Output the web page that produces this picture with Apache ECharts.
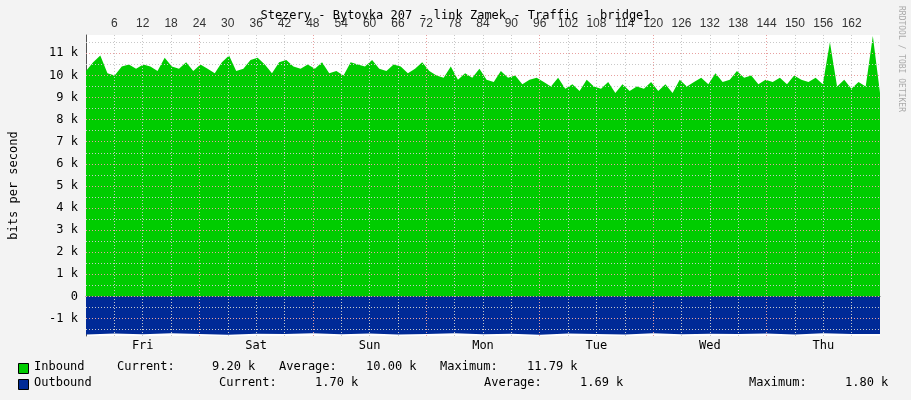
<!DOCTYPE html>
<html><head><meta charset="utf-8">
<script src="https://cdn.jsdelivr.net/npm/echarts@6/dist/echarts.min.js"></script>
<style>html,body{margin:0;padding:0;background:#f3f3f3}#c{width:911px;height:400px}</style>
</head><body><div id="c"></div>
<script>
// hours from Thu 00:00, one week
const dayNames = ['Fri', 'Sat', 'Sun', 'Mon', 'Tue', 'Wed', 'Thu'];
const yTicks = [-1, 0, 1, 2, 3, 4, 5, 6, 7, 8, 9, 10, 11];
const inbound = [
  10.2,10.6,10.9,10.1,10.0,10.4,10.5,10.3,10.5,10.4,10.2,10.8,10.4,10.3,10.6,10.2,
  10.5,10.3,10.1,10.6,10.9,10.2,10.3,10.7,10.8,10.5,10.1,10.6,10.7,10.4,10.3,10.5,
  10.3,10.6,10.1,10.2,10.0,10.6,10.5,10.4,10.7,10.3,10.2,10.5,10.4,10.1,10.3,10.6,
  10.2,10.0,9.9,10.4,9.8,10.1,9.9,10.3,9.8,9.7,10.2,9.9,10.0,9.6,9.8,9.9,
  9.7,9.5,9.9,9.4,9.6,9.3,9.8,9.5,9.4,9.7,9.2,9.6,9.3,9.5,9.4,9.7,
  9.3,9.6,9.2,9.8,9.5,9.7,9.9,9.6,10.1,9.7,9.8,10.2,9.9,10.0,9.6,9.8,
  9.7,9.9,9.6,10.0,9.8,9.7,9.9,9.6,11.5,9.5,9.8,9.4,9.7,9.5,11.79,9.2
];
const outbound = [
  -1.72,-1.68,-1.71,-1.66,-1.70,-1.73,-1.69,-1.70,-1.67,-1.71,-1.68,-1.72,-1.70,-1.66,
  -1.71,-1.69,-1.73,-1.68,-1.70,-1.72,-1.67,-1.71,-1.69,-1.70,-1.68,-1.72,-1.66,-1.70,-1.70
];

const toXY = arr => arr.map((v, i) => [i * 168 / (arr.length - 1), v]);

const hLines = [];
for (let v = -1.5; v <= 11.5; v += 0.5) {
  const major = Number.isInteger(v);
  hLines.push({
    yAxis: v,
    lineStyle: { color: major ? '#e8a0a0' : '#c8c8c8', type: [1, 2], width: 1 },
    label: major && yTicks.includes(v) ? {
      show: true, position: 'start', distance: 8,
      formatter: v === 0 ? '0' : v + ' k',
      color: '#000', fontFamily: 'DejaVu Sans Mono', fontSize: 12
    } : { show: false }
  });
}
const vLines = [];
for (let h = 6; h < 168; h += 6) {
  vLines.push({ xAxis: h, lineStyle: { color: h % 24 === 0 ? '#e8a0a0' : '#c8c8c8', type: [1, 2], width: 1 } });
}

const mono = 'DejaVu Sans Mono';
const txt = (x, y, s) => ({ type: 'text', left: x, top: y, style: { text: s, font: '12px ' + mono, fill: '#000' } });

const chart = echarts.init(document.getElementById('c'));
chart.setOption({
  backgroundColor: '#f3f3f3',
  animation: false,
  grid: { left: 81, top: 35, right: 31, bottom: 64, show: true, backgroundColor: '#fff', borderWidth: 0 },
  title: { text: 'Stezery - Bytovka 207 - link Zamek - Traffic - bridge1', left: 'center', top: 5,
    textStyle: { fontFamily: mono, fontSize: 12, fontWeight: 'normal', color: '#000' } },
  xAxis: {
    type: 'value', min: 0, max: 168, interval: 6,
    axisLine: { lineStyle: { color: '#555' } },
    axisTick: { show: true, length: 3, inside: false, lineStyle: { color: '#c00' } },
    splitLine: { show: false },
    axisLabel: { fontFamily: mono, fontSize: 12, color: '#000', margin: 4,
      showMinLabel: true, showMaxLabel: false,
      formatter: v => (v % 24 === 12 ? dayNames[(v - 12) / 24] : '') }
  },
  yAxis: {
    type: 'value', min: -1.79, max: 11.83,
    name: 'bits per second', nameLocation: 'middle', nameGap: 66, nameRotate: 90,
    nameTextStyle: { fontFamily: mono, fontSize: 12, color: '#000' },
    axisLine: { show: true, lineStyle: { color: '#555' } },
    axisTick: { show: false }, axisLabel: { show: false }, splitLine: { show: false }
  },
  series: [
    { type: 'line', data: toXY(inbound), symbol: 'none', lineStyle: { width: 0 },
      areaStyle: { color: '#00cc00', opacity: 1 }, z: 1 },
    { type: 'line', data: toXY(outbound), symbol: 'none', lineStyle: { width: 0 },
      areaStyle: { color: '#002a97', opacity: 1, origin: 0 }, z: 1 },
    { type: 'line', data: [], z: 3,
      markLine: { silent: true, symbol: 'none', animation: false, data: hLines.concat(vLines) } }
  ],
  graphic: [
    { type: 'text', left: 897, top: 6, rotation: -Math.PI / 2, originX: 0, originY: 0,
      style: { text: 'RRDTOOL / TOBI OETIKER', font: '8px ' + mono, fill: '#aaa' }, x: 0 },
    { type: 'rect', left: 18, top: 363, shape: { width: 10, height: 10 }, style: { fill: '#00cc00', stroke: '#000', lineWidth: 1 } },
    { type: 'rect', left: 18, top: 379, shape: { width: 10, height: 10 }, style: { fill: '#002a97', stroke: '#000', lineWidth: 1 } },
    txt(34, 361, 'Inbound'), txt(117, 361, 'Current:'), txt(212, 361, '9.20 k'),
    txt(279, 361, 'Average:'), txt(366, 361, '10.00 k'), txt(440, 361, 'Maximum:'), txt(527, 361, '11.79 k'),
    txt(34, 377, 'Outbound'), txt(219, 377, 'Current:'), txt(315, 377, '1.70 k'),
    txt(484, 377, 'Average:'), txt(580, 377, '1.69 k'), txt(749, 377, 'Maximum:'), txt(845, 377, '1.80 k')
  ]
});
</script></body></html>
